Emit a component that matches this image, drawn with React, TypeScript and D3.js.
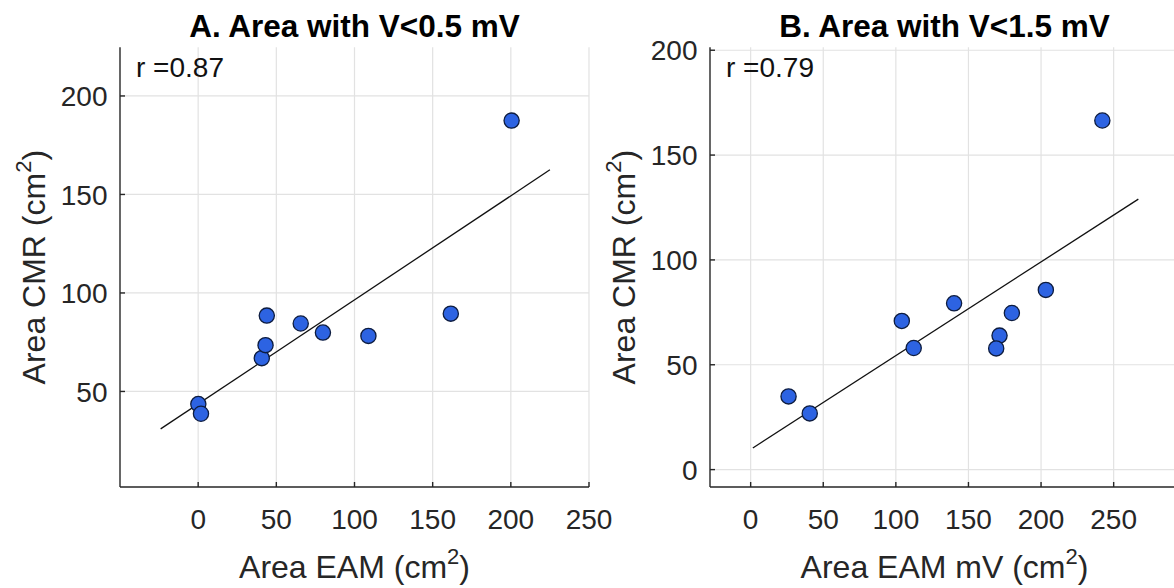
import React from "react";
import * as d3 from "d3";

// panel A: area with V<0.5 mV
const aX = [200.5, 0.1, 1.8, 40.7, 43.1, 43.9, 65.6, 79.8, 108.9, 161.6];
const aY = [187.5, 43.6, 38.7, 66.9, 73.5, 88.5, 84.5, 79.9, 78.2, 89.5];
const aFitX = [-24, 225];
const aFitY = [31, 162.5];
const aXTicks = [0, 50, 100, 150, 200, 250];
const aYTicks = [50, 100, 150, 200];

// panel B: area with V<1.5 mV
const bX = [26.1, 40.7, 104.1, 112.3, 140.1, 171.4, 169.1, 179.9, 203.3, 242.2];
const bY = [34.9, 26.8, 70.9, 58.0, 79.3, 63.9, 57.8, 74.7, 85.7, 166.5];
const bFitX = [1.5, 267];
const bFitY = [10.3, 129];
const bXTicks = [0, 50, 100, 150, 200, 250];
const bYTicks = [0, 50, 100, 150, 200];

const FONT = "'Liberation Sans', Arial, Helvetica, sans-serif";
const AXIS = "#262626";
const GRID = "#e2e2e2";

type PanelProps = {
  title: string;
  rText: string;
  xLabel: string;
  yLabel: string;
  xs: number[];
  ys: number[];
  fitX: number[];
  fitY: number[];
  xTicks: number[];
  yTicks: number[];
  xDomain: [number, number];
  yDomain: [number, number];
  left: number;
  right: number;
};

const TOP = 47.3;
const BOTTOM = 487;

const Panel = (p: PanelProps) => {
  const x = d3.scaleLinear().domain(p.xDomain).range([p.left, p.right]);
  const y = d3.scaleLinear().domain(p.yDomain).range([BOTTOM, TOP]);
  const line = d3
    .line<number>()
    .x((d) => x(d))
    .y((_, i) => y(p.fitY[i]));
  const cx = (p.left + p.right) / 2;
  const cy = (TOP + BOTTOM) / 2;

  return (
    <g>
      {/* grid */}
      {p.xTicks.map((t) => (
        <line key={"gx" + t} x1={x(t)} x2={x(t)} y1={TOP} y2={BOTTOM} stroke={GRID} strokeWidth={1.2} />
      ))}
      {p.yTicks.map((t) => (
        <line key={"gy" + t} x1={p.left} x2={p.right} y1={y(t)} y2={y(t)} stroke={GRID} strokeWidth={1.2} />
      ))}

      {/* axes with inward ticks */}
      <line x1={p.left} x2={p.left} y1={TOP} y2={BOTTOM} stroke={AXIS} strokeWidth={1.4} />
      <line x1={p.left} x2={p.right} y1={BOTTOM} y2={BOTTOM} stroke={AXIS} strokeWidth={1.4} />
      {p.xTicks.map((t) => (
        <g key={"tx" + t}>
          <line x1={x(t)} x2={x(t)} y1={BOTTOM} y2={BOTTOM - 5} stroke={AXIS} strokeWidth={1.4} />
          <text x={x(t)} y={529} textAnchor="middle" fontSize={28} fill={AXIS} fontFamily={FONT}>
            {t}
          </text>
        </g>
      ))}
      {p.yTicks.map((t) => (
        <g key={"ty" + t}>
          <line x1={p.left} x2={p.left + 5} y1={y(t)} y2={y(t)} stroke={AXIS} strokeWidth={1.4} />
          <text x={p.left - 12.5} y={y(t)} dy="0.36em" textAnchor="end" fontSize={28} fill={AXIS} fontFamily={FONT}>
            {t}
          </text>
        </g>
      ))}

      {/* fit line */}
      <path d={line(p.fitX) || ""} fill="none" stroke="#111" strokeWidth={1.3} />

      {/* points */}
      {p.xs.map((v, i) => (
        <circle key={i} cx={x(v)} cy={y(p.ys[i])} r={7.6} fill="#2d63e2" stroke="#0d1c3f" strokeWidth={1.3} />
      ))}

      {/* texts */}
      <text x={cx} y={37.3} textAnchor="middle" fontSize={31.5} fontWeight="bold" fill="#000" fontFamily={FONT}>
        {p.title}
      </text>
      <text x={p.left + 16} y={77} fontSize={28} fill="#111" fontFamily={FONT}>
        {p.rText}
      </text>
      <text x={cx} y={578} textAnchor="middle" fontSize={32} fill={AXIS} fontFamily={FONT}>
        {p.xLabel + " (cm"}
        <tspan fontSize={22} dy={-14}>2</tspan>
        <tspan dy={14}>)</tspan>
      </text>
      <text
        transform={`translate(${p.left - 75},${cy}) rotate(-90)`}
        textAnchor="middle"
        fontSize={32}
        fill={AXIS}
        fontFamily={FONT}
      >
        {p.yLabel + " (cm"}
        <tspan fontSize={22} dy={-14}>2</tspan>
        <tspan dy={14}>)</tspan>
      </text>
    </g>
  );
};

export default function App() {
  return (
    <svg
      width={1174}
      height={588}
      style={{ position: "absolute", left: 0, top: 0, background: "#fff" }}
    >
      <rect width={1174} height={588} fill="#fff" />
      <Panel
        title="A. Area with V<0.5 mV"
        rText="r =0.87"
        xLabel="Area EAM"
        yLabel="Area CMR"
        xs={aX}
        ys={aY}
        fitX={aFitX}
        fitY={aFitY}
        xTicks={aXTicks}
        yTicks={aYTicks}
        xDomain={[-50, 250]}
        yDomain={[1.5, 224.7]}
        left={120}
        right={589}
      />
      <Panel
        title="B. Area with V<1.5 mV"
        rText="r =0.79"
        xLabel="Area EAM mV"
        yLabel="Area CMR"
        xs={bX}
        ys={bY}
        fitX={bFitX}
        fitY={bFitY}
        xTicks={bXTicks}
        yTicks={bYTicks}
        xDomain={[-28, 295]}
        yDomain={[-8.3, 201.4]}
        left={710}
        right={1179}
      />
    </svg>
  );
}
